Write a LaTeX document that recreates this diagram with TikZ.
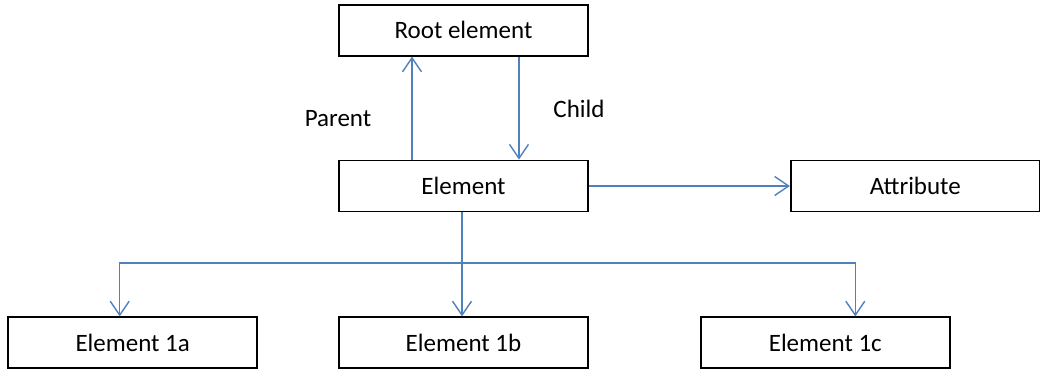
\documentclass[tikz,border=0pt]{standalone}
\usepackage{fontspec}
\setmainfont{Carlito}
\usepackage{xcolor}
\usepackage{tikz}
\usetikzlibrary{positioning,arrows.meta}

\definecolor{linkblue}{HTML}{4F81BD}

\begin{document}
\begin{tikzpicture}[x=0.5pt, y=-0.5pt,
    box/.style={rectangle, draw, line width=0.9pt, minimum width=124.5pt, minimum height=25.5pt, inner sep=0pt, font=\fontsize{12.5}{15}\selectfont},
    lbl/.style={inner sep=0pt, font=\fontsize{12.5}{15}\selectfont},
    arr/.style={draw=linkblue, line width=0.7pt, -{Straight Barb[length=7pt, width=9.5pt]}}]
        \useasboundingbox (0,0) rectangle (1040,369);
        \node[box] (elem) at (463.5,186) {Element};
        \node[box] (root) [above = 51.5pt of elem] {Root element};
        \node[box] (attr) [right = 100.5pt of elem] {Attribute};
        \node[box] (e1b) [below = 52pt of elem] {Element 1b};
        \node[box] (e1a) [left = 40pt of e1b] {Element 1a};
        \node[box] (e1c) [right = 55.5pt of e1b] {Element 1c};
        \node[lbl] (parentlbl) at (338,119) {Parent};
        \node[lbl] (childlbl) at (579,109) {Child};
        \coordinate (bus) at (462,263);
        \path[arr] ([xshift=-25.75pt]elem.north) -- ([xshift=-25.75pt]root.south);
        \path[arr] ([xshift=27.75pt]root.south) -- ([xshift=27.75pt]elem.north);
        \path[arr] (elem.east) -- (attr.west);
        \draw[linkblue, line width=0.7pt] (bus |- elem.south) -- (bus);
        \path[arr] (bus) -| ([xshift=-6.5pt]e1a.north);
        \path[arr] (bus) -- (bus |- e1b.north);
        \path[arr] (bus) -| ([xshift=15pt]e1c.north);
    \end{tikzpicture}
\end{document}
